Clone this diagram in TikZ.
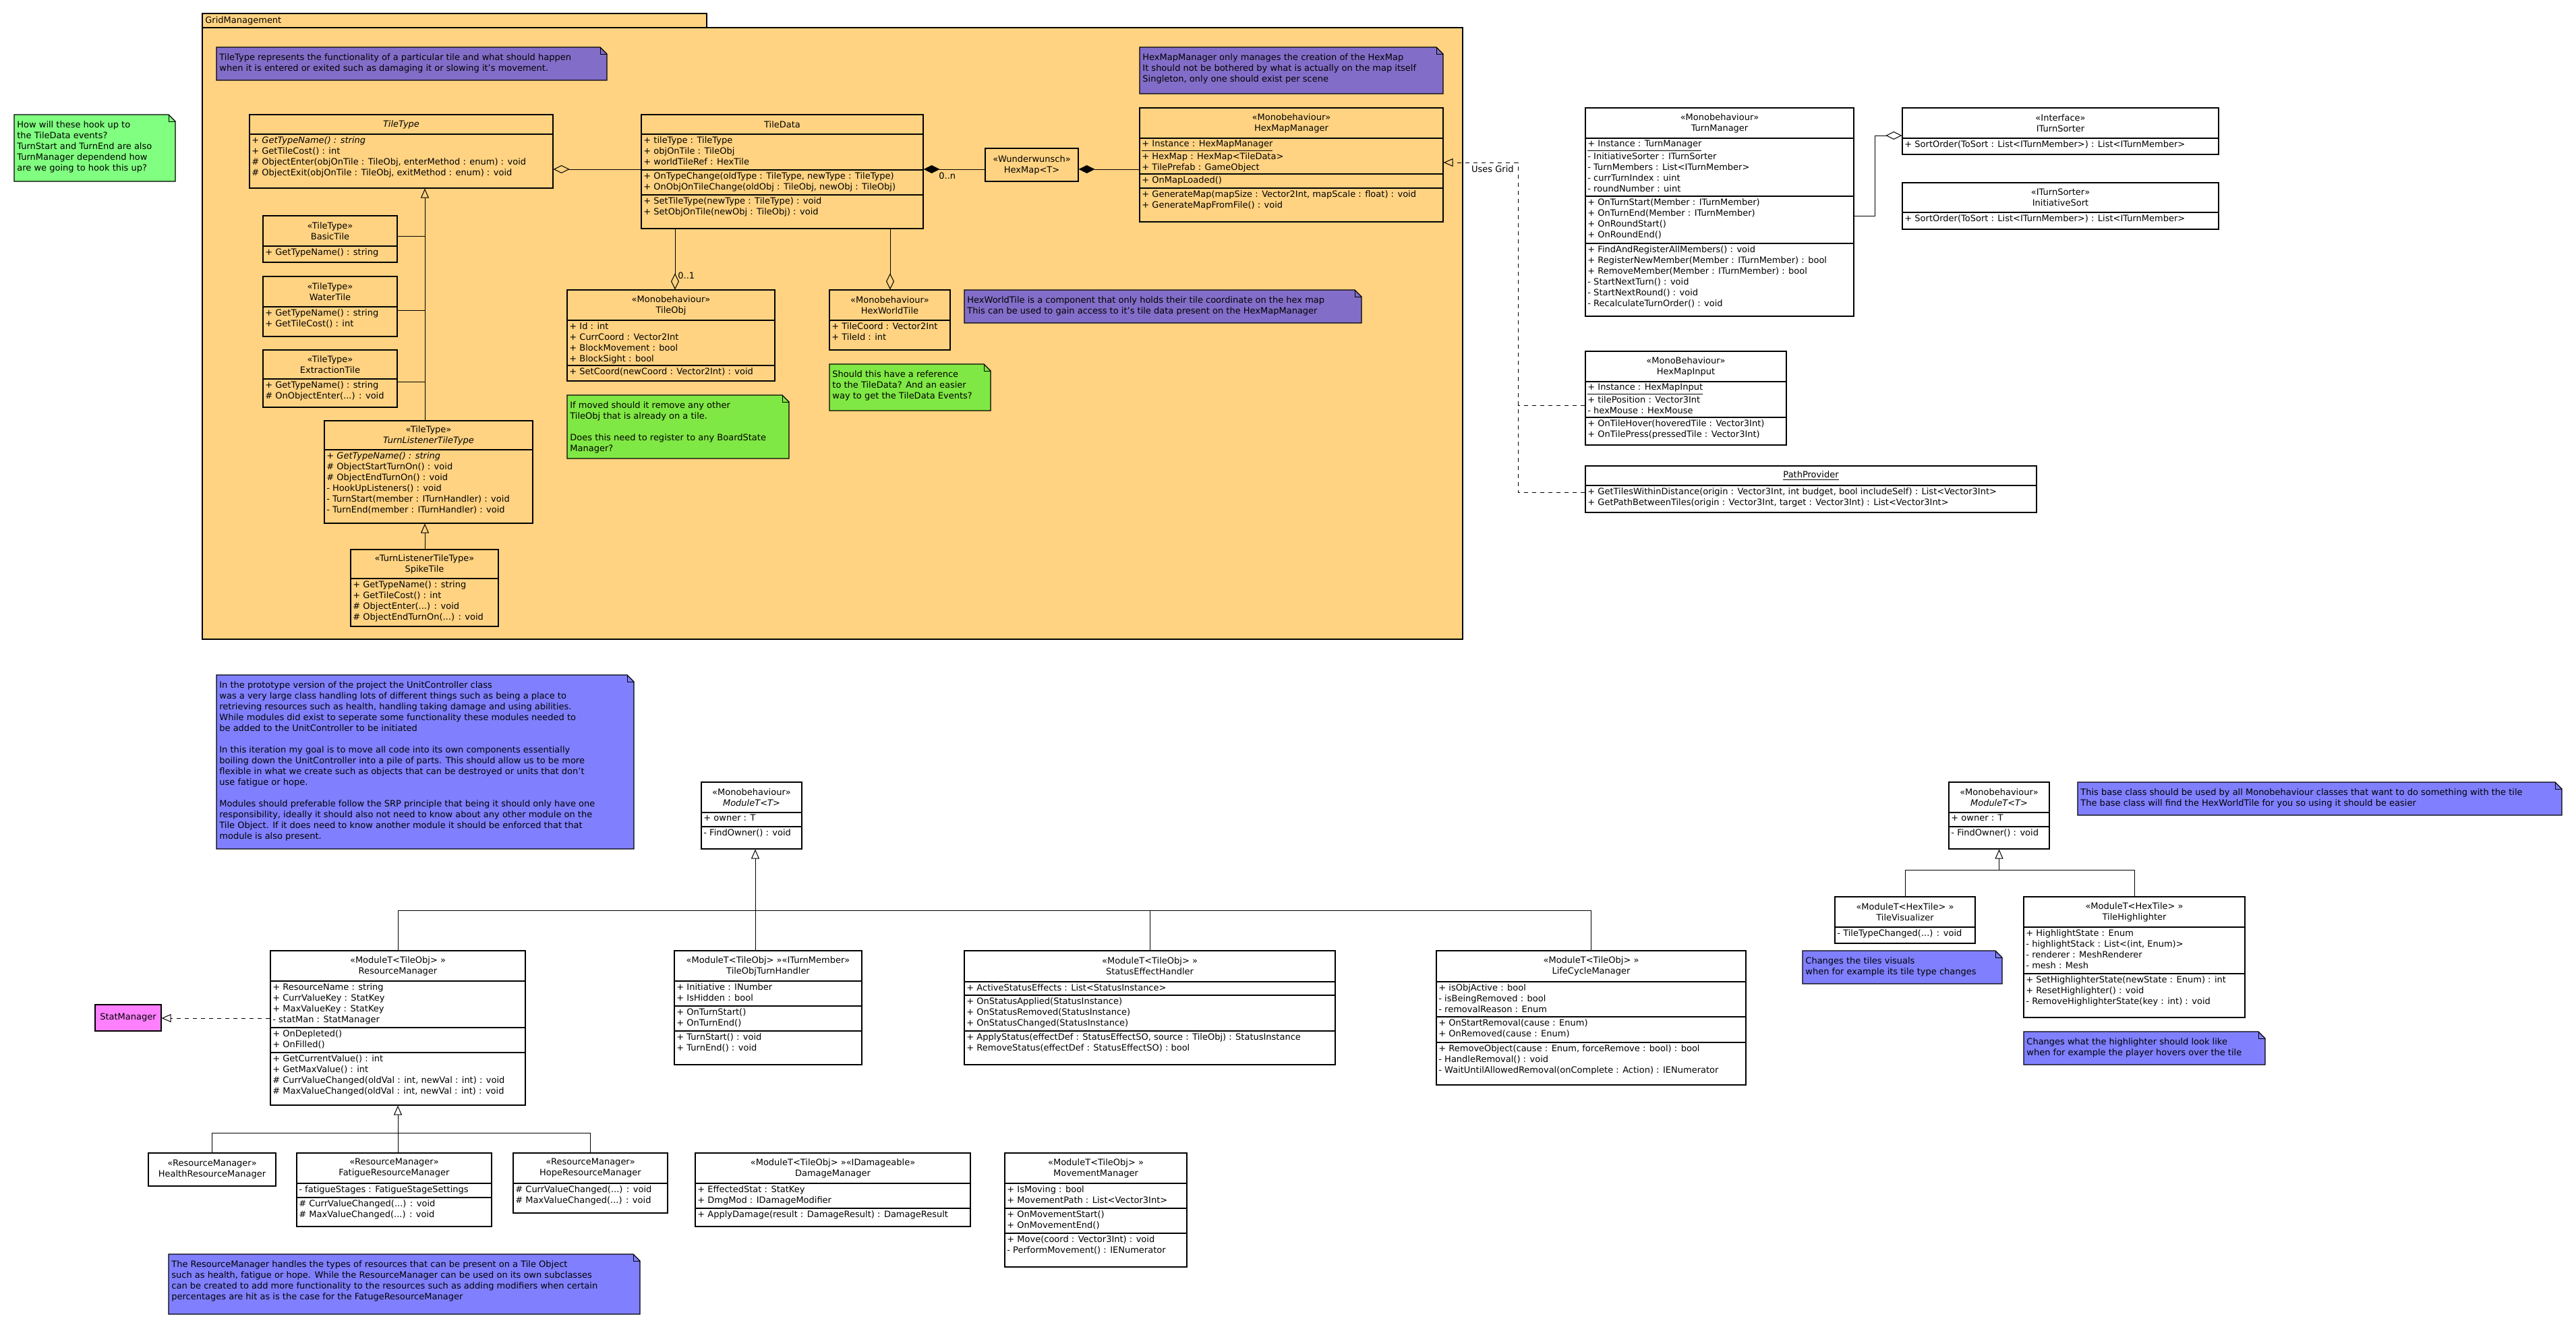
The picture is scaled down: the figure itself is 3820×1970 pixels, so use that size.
\documentclass[tikz,border=0pt]{standalone}
\usepackage{fontspec}
\setmainfont{DejaVu Sans}
\usetikzlibrary{arrows.meta,fit,shapes.geometric}
\definecolor{pkg}{RGB}{255,211,130}
\definecolor{notepurple}{RGB}{130,110,200}
\definecolor{noteblue}{RGB}{128,128,255}
\definecolor{notegreen}{RGB}{128,255,128}
\definecolor{notelime}{RGB}{128,232,68}
\definecolor{magentabox}{RGB}{255,128,255}
\tikzset{
 every node/.style={font=\fontsize{6.5}{8}\selectfont},
 box/.style={draw, line width=0.6pt, inner sep=0pt},
 hd/.style={align=center, inner sep=0pt},
 sec/.style={anchor=north west, align=left, inner xsep=1.5pt, inner ysep=1.5pt},
 gen/.style={-{Triangle[open,length=7pt,width=6pt]}, line width=0.5pt},
 real/.style={-{Triangle[open,length=7pt,width=6pt]}, dashed, line width=0.5pt},
 agg/.style={{Diamond[open,length=12pt,width=6pt]}-, line width=0.5pt},
 comp/.style={{Diamond[length=12pt,width=6pt]}-, line width=0.5pt},
 plain/.style={line width=0.5pt},
}
\newcommand\cls[8][white]{%
 \node[box, fill=#1, fit={(#3,#4)(#5,#6)}] (#2) {};
 \node[hd] at ({(#3+#5)/2},{(#4+#7)/2}) {#8};}
\newcommand\sect[4]{\draw[line width=0.6pt] (#1,#2) -- (#3,#2); \node[sec] at (#1,#2) {#4};}
\newcommand\note[7]{%
 \node[fit={(#2,#3)(#4,#5)}, inner sep=0pt] (#1) {};
 \filldraw[fill=#6, line width=0.6pt] (#2,#3) -- ({#4-10},#3) -- (#4,{#3+10}) -- (#4,#5) -- (#2,#5) -- cycle;
 \draw[line width=0.5pt] ({#4-10},#3) -- ({#4-10},{#3+10}) -- (#4,{#3+10});
 \node[anchor=north west, align=left, inner sep=0pt] at ({#2+4},{#3+9}) {#7};}
\begin{document}
\begin{tikzpicture}[x=0.5pt,y=-0.5pt]
\fill[white] (0,0) rectangle (3820,1970);
\useasboundingbox (0,0) rectangle (3820,1970);
% package
\filldraw[fill=pkg, line width=0.6pt] (300,20) rectangle (1048,41);
\node[fit={(300,41)(2169,948)}, inner sep=0pt, draw, line width=0.6pt, fill=pkg] (gridpkg) {};
\node[anchor=west, inner sep=0pt] at (304,31) {GridManagement};

\note{ntile}{321}{70}{900}{119}{notepurple}{TileType represents the functionality of a particular tile and what should happen\\when it is entered or exited such as damaging it or slowing it's movement.}
\note{nhexmap}{1690}{70}{2140}{139}{notepurple}{HexMapManager only manages the creation of the HexMap\\It should not be bothered by what is actually on the map itself\\Singleton, only one should exist per scene}
\note{nhexworld}{1430}{430}{2019}{479}{notepurple}{HexWorldTile is a component that only holds their tile coordinate on the hex map\\This can be used to gain access to it's tile data present on the HexMapManager}
\note{nref}{1230}{540}{1469}{609}{notelime}{Should this have a reference\\to the TileData? And an easier\\way to get the TileData Events?}
\note{nmoved}{841}{586}{1170}{680}{notelime}{If moved should it remove any other\\TileObj that is already on a tile.\\[8pt]Does this need to register to any BoardState\\Manager?}
\note{nhook}{21}{170}{260}{269}{notegreen}{How will these hook up to\\the TileData events?\\TurnStart and TurnEnd are also\\TurnManager dependend how\\are we going to hook this up?}

\cls[pkg]{tiletype}{370}{170}{820}{279}{199}{\textit{TileType}}
\sect{370}{199}{820}{+ \textit{GetTypeName() : string}\\+ GetTileCost() : int\\\# ObjectEnter(objOnTile : TileObj, enterMethod : enum) : void\\\# ObjectExit(objOnTile : TileObj, exitMethod : enum) : void}

\cls[pkg]{tiledata}{951}{170}{1369}{339}{199}{TileData}
\sect{951}{199}{1369}{+ tileType : TileType\\+ objOnTile : TileObj\\+ worldTileRef : HexTile}
\sect{951}{252}{1369}{+ OnTypeChange(oldType : TileType, newType : TileType)\\+ OnObjOnTileChange(oldObj : TileObj, newObj : TileObj)}
\sect{951}{289}{1369}{+ SetTileType(newType : TileType) : void\\+ SetObjOnTile(newObj : TileObj) : void}

\cls[pkg]{basic}{390}{320}{589}{389}{365}{«TileType»\\BasicTile}
\sect{390}{365}{589}{+ GetTypeName() : string}
\cls[pkg]{water}{390}{410}{589}{499}{455}{«TileType»\\WaterTile}
\sect{390}{455}{589}{+ GetTypeName() : string\\+ GetTileCost() : int}
\cls[pkg]{extract}{390}{519}{589}{604}{562}{«TileType»\\ExtractionTile}
\sect{390}{562}{589}{+ GetTypeName() : string\\\# OnObjectEnter(...) : void}
\cls[pkg]{tlt}{481}{624}{790}{776}{667}{«TileType»\\\textit{TurnListenerTileType}}
\sect{481}{667}{790}{+ \textit{GetTypeName() : string}\\\# ObjectStartTurnOn() : void\\\# ObjectEndTurnOn() : void\\- HookUpListeners() : void\\- TurnStart(member : ITurnHandler) : void\\- TurnEnd(member : ITurnHandler) : void}
\cls[pkg]{spike}{520}{815}{739}{929}{858}{«TurnListenerTileType»\\SpikeTile}
\sect{520}{858}{739}{+ GetTypeName() : string\\+ GetTileCost() : int\\\# ObjectEnter(...) : void\\\# ObjectEndTurnOn(...) : void}

\cls[pkg]{tileobj}{841}{430}{1149}{565}{475}{«Monobehaviour»\\TileObj}
\sect{841}{475}{1149}{+ Id : int\\+ CurrCoord : Vector2Int\\+ BlockMovement : bool\\+ BlockSight : bool}
\sect{841}{542}{1149}{+ SetCoord(newCoord : Vector2Int) : void}
\cls[pkg]{hexworld}{1230}{430}{1409}{519}{475}{«Monobehaviour»\\HexWorldTile}
\sect{1230}{475}{1409}{+ TileCoord : Vector2Int\\+ TileId : int}
\cls[pkg]{hexmap}{1461}{220}{1599}{269}{269}{«Wunderwunsch»\\HexMap<T>}
\cls[pkg]{hexmapmgr}{1690}{160}{2140}{329}{205}{«Monobehaviour»\\HexMapManager}
\sect{1690}{205}{2140}{\underline{+ Instance : HexMapManager}\\+ HexMap : HexMap<TileData>\\+ TilePrefab : GameObject}
\sect{1690}{258}{2140}{+ OnMapLoaded()}
\sect{1690}{279}{2140}{+ GenerateMap(mapSize : Vector2Int, mapScale : float) : void\\+ GenerateMapFromFile() : void}

% connectors in package
\draw[agg] (tiletype.east |- 0,251) -- (tiledata.west |- 0,251);
\draw[agg] (1001,0 |- tileobj.north) -- (1001,0 |- tiledata.south);
\node[anchor=west, inner sep=0pt] (l01) at (1005,409) {0..1};
\draw[agg] (1320,0 |- hexworld.north) -- (1320,0 |- tiledata.south);
\draw[comp] (tiledata.east |- 0,251) -- (hexmap.west |- 0,251);
\node[anchor=west, inner sep=0pt] (l0n) at (1392,261) {0..n};
\draw[comp] (hexmap.east |- 0,251) -- (hexmapmgr.west |- 0,251);
\draw[gen] (630,0 |- tlt.north) -- (630,0 |- tiletype.south);
\draw[plain] (basic.east |- 0,350) -- (630,350);
\draw[plain] (water.east |- 0,460) -- (630,460);
\draw[plain] (extract.east |- 0,566) -- (630,566);
\draw[gen] (630,0 |- spike.north) -- (630,0 |- tlt.south);

% right side
\cls{turnmgr}{2351}{160}{2749}{469}{205}{«Monobehaviour»\\TurnManager}
\sect{2351}{205}{2749}{\underline{+ Instance : TurnManager}\\- InitiativeSorter : ITurnSorter\\- TurnMembers : List<ITurnMember>\\- currTurnIndex : uint\\- roundNumber : uint}
\sect{2351}{291}{2749}{+ OnTurnStart(Member : ITurnMember)\\+ OnTurnEnd(Member : ITurnMember)\\+ OnRoundStart()\\+ OnRoundEnd()}
\sect{2351}{361}{2749}{+ FindAndRegisterAllMembers() : void\\+ RegisterNewMember(Member : ITurnMember) : bool\\+ RemoveMember(Member : ITurnMember) : bool\\- StartNextTurn() : void\\- StartNextRound() : void\\- RecalculateTurnOrder() : void}
\cls{itsorter}{2821}{160}{3290}{229}{205}{«Interface»\\ITurnSorter}
\sect{2821}{205}{3290}{+ SortOrder(ToSort : List<ITurnMember>) : List<ITurnMember>}
\cls{initsort}{2821}{271}{3290}{340}{315}{«ITurnSorter»\\InitiativeSort}
\sect{2821}{315}{3290}{+ SortOrder(ToSort : List<ITurnMember>) : List<ITurnMember>}
\draw[agg] (itsorter.west |- 0,201) -- (2780,201) -- (2780,320) -- (turnmgr.east |- 0,320);
\cls{hexinput}{2351}{521}{2649}{660}{566}{«MonoBehaviour»\\HexMapInput}
\sect{2351}{566}{2649}{\underline{+ Instance : HexMapInput}\\+ tilePosition : Vector3Int\\- hexMouse : HexMouse}
\sect{2351}{619}{2649}{+ OnTileHover(hoveredTile : Vector3Int)\\+ OnTilePress(pressedTile : Vector3Int)}
\cls{pathprov}{2351}{691}{3020}{760}{720}{\underline{PathProvider}}
\sect{2351}{720}{3020}{+ GetTilesWithinDistance(origin : Vector3Int, int budget, bool includeSelf) : List<Vector3Int>\\+ GetPathBetweenTiles(origin : Vector3Int, target : Vector3Int) : List<Vector3Int>}
\draw[real] (pathprov.west |- 0,730) -- (2251,730) -- (2251,241) -- (hexmapmgr.east |- 0,241);
\draw[plain, dashed] (hexinput.west |- 0,601) -- (2251,601);
\node[anchor=east, inner sep=0pt] (usesgrid) at (2245,251) {Uses Grid};

% bottom left
\note{nbig}{321}{1001}{940}{1259}{noteblue}{In the prototype version of the project the UnitController class\\was a very large class handling lots of different things such as being a place to\\retrieving resources such as health, handling taking damage and using abilities.\\While modules did exist to seperate some functionality these modules needed to\\be added to the UnitController to be initiated\\[8pt]In this iteration my goal is to move all code into its own components essentially\\boiling down the UnitController into a pile of parts. This should allow us to be more\\flexible in what we create such as objects that can be destroyed or units that don't\\use fatigue or hope.\\[8pt]Modules should preferable follow the SRP principle that being it should only have one\\responsibility, ideally it should also not need to know about any other module on the\\Tile Object. If it does need to know another module it should be enforced that that\\module is also present.}
\note{nres}{250}{1860}{949}{1949}{noteblue}{The ResourceManager handles the types of resources that can be present on a Tile Object\\such as health, fatigue or hope. While the ResourceManager can be used on its own subclasses\\can be created to add more functionality to the resources such as adding modifiers when certain\\percentages are hit as is the case for the FatugeResourceManager}

\cls{module1}{1040}{1160}{1189}{1259}{1205}{«Monobehaviour»\\\textit{ModuleT<T>}}
\sect{1040}{1205}{1189}{+ owner : T}
\sect{1040}{1226}{1189}{- FindOwner() : void}
\cls{resmgr}{401}{1410}{779}{1639}{1455}{«ModuleT<TileObj> »\\ResourceManager}
\sect{401}{1455}{779}{+ ResourceName : string\\+ CurrValueKey : StatKey\\+ MaxValueKey : StatKey\\- statMan : StatManager}
\sect{401}{1524}{779}{+ OnDepleted()\\+ OnFilled()}
\sect{401}{1561}{779}{+ GetCurrentValue() : int\\+ GetMaxValue() : int\\\# CurrValueChanged(oldVal : int, newVal : int) : void\\\# MaxValueChanged(oldVal : int, newVal : int) : void}
\cls{turnh}{1000}{1410}{1278}{1579}{1455}{«ModuleT<TileObj> »«ITurnMember»\\TileObjTurnHandler}
\sect{1000}{1455}{1278}{+ Initiative : INumber\\+ IsHidden : bool}
\sect{1000}{1492}{1278}{+ OnTurnStart()\\+ OnTurnEnd()}
\sect{1000}{1529}{1278}{+ TurnStart() : void\\+ TurnEnd() : void}
\cls{statusfx}{1430}{1410}{1980}{1579}{1456}{«ModuleT<TileObj> »\\StatusEffectHandler}
\sect{1430}{1456}{1980}{+ ActiveStatusEffects : List<StatusInstance>}
\sect{1430}{1476}{1980}{+ OnStatusApplied(StatusInstance)\\+ OnStatusRemoved(StatusInstance)\\+ OnStatusChanged(StatusInstance)}
\sect{1430}{1529}{1980}{+ ApplyStatus(effectDef : StatusEffectSO, source : TileObj) : StatusInstance\\+ RemoveStatus(effectDef : StatusEffectSO) : bool}
\cls{lifecycle}{2130}{1410}{2589}{1609}{1456}{«ModuleT<TileObj> »\\LifeCycleManager}
\sect{2130}{1456}{2589}{+ isObjActive : bool\\- isBeingRemoved : bool\\- removalReason : Enum}
\sect{2130}{1508}{2589}{+ OnStartRemoval(cause : Enum)\\+ OnRemoved(cause : Enum)}
\sect{2130}{1546}{2589}{+ RemoveObject(cause : Enum, forceRemove : bool) : bool\\- HandleRemoval() : void\\- WaitUntilAllowedRemoval(onComplete : Action) : IENumerator}
\cls[magentabox]{statmgr}{141}{1490}{239}{1529}{1529}{StatManager}
\cls{health}{220}{1710}{409}{1759}{1759}{«ResourceManager»\\HealthResourceManager}
\cls{fatigue}{440}{1710}{729}{1819}{1755}{«ResourceManager»\\FatigueResourceManager}
\sect{440}{1755}{729}{- fatigueStages : FatigueStageSettings}
\sect{440}{1776}{729}{\# CurrValueChanged(...) : void\\\# MaxValueChanged(...) : void}
\cls{hope}{761}{1710}{990}{1799}{1755}{«ResourceManager»\\HopeResourceManager}
\sect{761}{1755}{990}{\# CurrValueChanged(...) : void\\\# MaxValueChanged(...) : void}
\cls{damage}{1031}{1710}{1439}{1819}{1755}{«ModuleT<TileObj> »«IDamageable»\\DamageManager}
\sect{1031}{1755}{1439}{+ EffectedStat : StatKey\\+ DmgMod : IDamageModifier}
\sect{1031}{1792}{1439}{+ ApplyDamage(result : DamageResult) : DamageResult}
\cls{movement}{1490}{1710}{1760}{1879}{1755}{«ModuleT<TileObj> »\\MovementManager}
\sect{1490}{1755}{1760}{+ IsMoving : bool\\+ MovementPath : List<Vector3Int>}
\sect{1490}{1792}{1760}{+ OnMovementStart()\\+ OnMovementEnd()}
\sect{1490}{1829}{1760}{+ Move(coord : Vector3Int) : void\\- PerformMovement() : IENumerator}

\draw[gen] (1120,0 |- turnh.north) -- (1120,0 |- module1.south);
\draw[plain] (590,0 |- resmgr.north) -- (590,1350) -- (lifecycle.north |- 0,1350) -- (lifecycle.north);
\draw[plain] (statusfx.north) -- (statusfx.north |- 0,1350);
\draw[real] (resmgr.west |- 0,1510) -- (statmgr.east |- 0,1510);
\draw[gen] (resmgr.south |- fatigue.north) -- (resmgr.south);
\draw[plain] (health.north) -- (health.north |- 0,1680) -- (hope.north |- 0,1680) -- (hope.north);

% bottom right
\cls{module2}{2890}{1160}{3039}{1259}{1205}{«Monobehaviour»\\\textit{ModuleT<T>}}
\sect{2890}{1205}{3039}{+ owner : T}
\sect{2890}{1226}{3039}{- FindOwner() : void}
\cls{tilevis}{2721}{1330}{2929}{1399}{1375}{«ModuleT<HexTile> »\\TileVisualizer}
\sect{2721}{1375}{2929}{- TileTypeChanged(...) : void}
\cls{tilehl}{3001}{1330}{3329}{1509}{1375}{«ModuleT<HexTile> »\\TileHighlighter}
\sect{3001}{1375}{3329}{+ HighlightState : Enum\\- highlightStack : List<(int, Enum)>\\- renderer : MeshRenderer\\- mesh : Mesh}
\sect{3001}{1444}{3329}{+ SetHighlighterState(newState : Enum) : int\\+ ResetHighlighter() : void\\- RemoveHighlighterState(key : int) : void}
\draw[gen] (module2.south |- 0,1290) -- (module2.south);
\draw[plain] (tilevis.north) -- (tilevis.north |- 0,1290) -- (tilehl.north |- 0,1290) -- (tilehl.north);
\note{nvis}{2673}{1410}{2969}{1459}{noteblue}{Changes the tiles visuals\\when for example its tile type changes}
\note{nhl}{3001}{1530}{3359}{1579}{noteblue}{Changes what the highlighter should look like\\when for example the player hovers over the tile}
\note{nbase}{3081}{1160}{3799}{1209}{noteblue}{This base class should be used by all Monobehaviour classes that want to do something with the tile\\The base class will find the HexWorldTile for you so using it should be easier}
\end{tikzpicture}
\end{document}
